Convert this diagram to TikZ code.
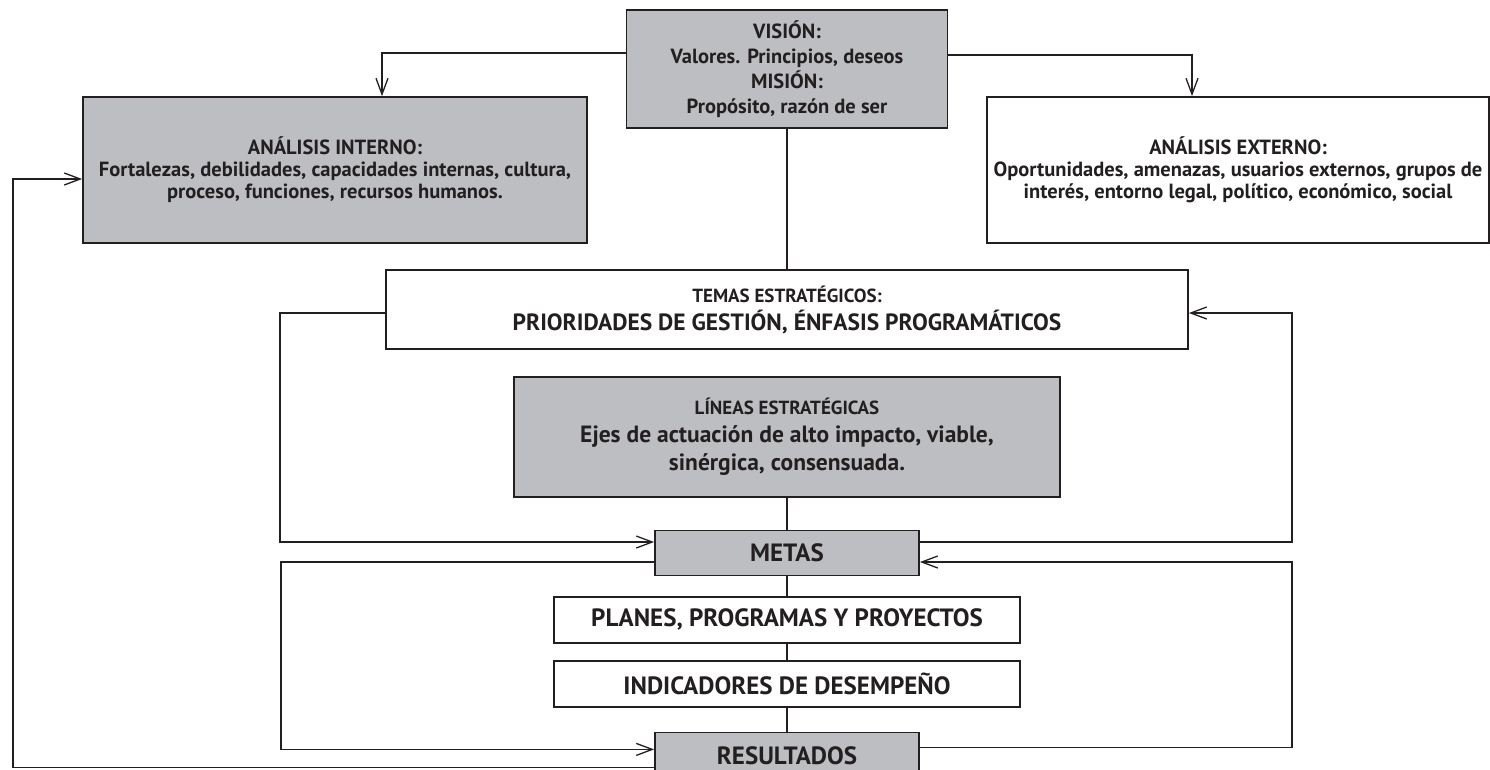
\documentclass[tikz,border=0pt]{standalone}
\usepackage{fontspec}
\setmainfont{PT Sans}
\usetikzlibrary{arrows.meta,positioning}

\definecolor{boxgray}{RGB}{189,190,193}
\definecolor{inkcol}{RGB}{35,31,32}

\newcommand{\boxfont}{\fontsize{20.5}{22}\selectfont\bfseries}
\newcommand{\visionfont}{\fontsize{20.5}{25}\selectfont\bfseries}
\newcommand{\headfont}{\fontsize{19}{22}\selectfont\bfseries}
\newcommand{\bigfont}{\fontsize{23.5}{28}\selectfont\bfseries}
\newcommand{\chainfont}{\fontsize{25}{30}\selectfont\bfseries}

\begin{document}
\begin{tikzpicture}[x=1pt, y=-1pt,
  box/.style={rectangle, draw=inkcol, line width=1.8pt, inner sep=0pt, align=center, text=inkcol},
  graybox/.style={box, fill=boxgray},
  whitebox/.style={box, fill=white},
  link/.style={draw=inkcol, line width=1.5pt},
  arrow/.style={link, -{Straight Barb[length=16pt, width=12pt, line width=1.3pt]}}]
  \useasboundingbox (0,0) rectangle (1490,769);

  % Top block (vision / mision)
  \node (vision) [graybox, minimum width=321pt, minimum height=118pt, font=\visionfont] at (787,69)
    {VISIÓN:\\ Valores. Principios, deseos\\ MISIÓN:\\ Propósito, razón de ser};

  % Analysis blocks
  \node (interno) [graybox, minimum width=504pt, minimum height=146pt, font=\boxfont] at (335,170)
    {ANÁLISIS INTERNO:\\ Fortalezas, debilidades, capacidades internas, cultura,\\ proceso, funciones, recursos humanos.};
  \node (externo) [whitebox, minimum width=502pt, minimum height=146pt, font=\boxfont] at (1238,170)
    {ANÁLISIS EXTERNO:\\ Oportunidades, amenazas, usuarios externos, grupos de\\ interés, entorno legal, político, económico, social};

  % Strategic blocks
  \node (temas) [whitebox, minimum width=802pt, minimum height=79pt, font=\bigfont] at (787,309.5)
    {{\headfont TEMAS ESTRATÉGICOS:}\\ PRIORIDADES DE GESTIÓN, ÉNFASIS PROGRAMÁTICOS};
  \node (lineas) [graybox, minimum width=546pt, minimum height=120pt, font=\bigfont, below=26pt of temas]
    {{\headfont LÍNEAS ESTRATÉGICAS}\\ Ejes de actuación de alto impacto, viable,\\ sinérgica, consensuada.};

  % Lower chain
  \node (metas) [graybox, minimum width=264pt, minimum height=45pt, font=\chainfont] at (787,553) {METAS};
  \node (planes) [whitebox, minimum width=466pt, minimum height=46pt, font=\chainfont, below=19.5pt of metas] {PLANES, PROGRAMAS Y PROYECTOS};
  \node (indicadores) [whitebox, minimum width=466pt, minimum height=46pt, font=\chainfont, below=16pt of planes] {INDICADORES DE DESEMPEÑO};
  \node (resultados) [graybox, minimum width=264pt, minimum height=46pt, font=\chainfont, below=24pt of indicadores] {RESULTADOS};

  % Straight links down the middle
  \draw [link] (vision) -- (temas);
  \draw [link] (lineas) -- (metas);
  \draw [link] (metas) -- (planes);
  \draw [link] (planes) -- (indicadores);
  \draw [link] (indicadores) -- (resultados);

  % Vision to both analyses
  \draw [arrow] ([yshift=16pt]vision.west) -| ([xshift=47pt]interno.north);
  \draw [arrow] ([yshift=14pt]vision.east) -| ([xshift=-46pt]externo.north);

  % Feedback loops
  \draw [arrow] ([yshift=-3.5pt]temas.west) -- ++(-105,0) |- ([yshift=11pt]metas.west);
  \draw [arrow] ([yshift=-9pt]metas.west) -- ++(-373,0) |- ([yshift=6pt]resultados.west);
  \draw [arrow] ([yshift=-12pt]resultados.west) -- ++(-641,0) |- ([yshift=-9pt]interno.west);
  \draw [arrow] ([yshift=11pt]metas.east) -- ++(372,0) |- ([yshift=-3.5pt]temas.east);
  \draw [arrow] ([yshift=8pt]resultados.east) -- ++(372,0) |- ([yshift=-9pt]metas.east);
\end{tikzpicture}
\end{document}
